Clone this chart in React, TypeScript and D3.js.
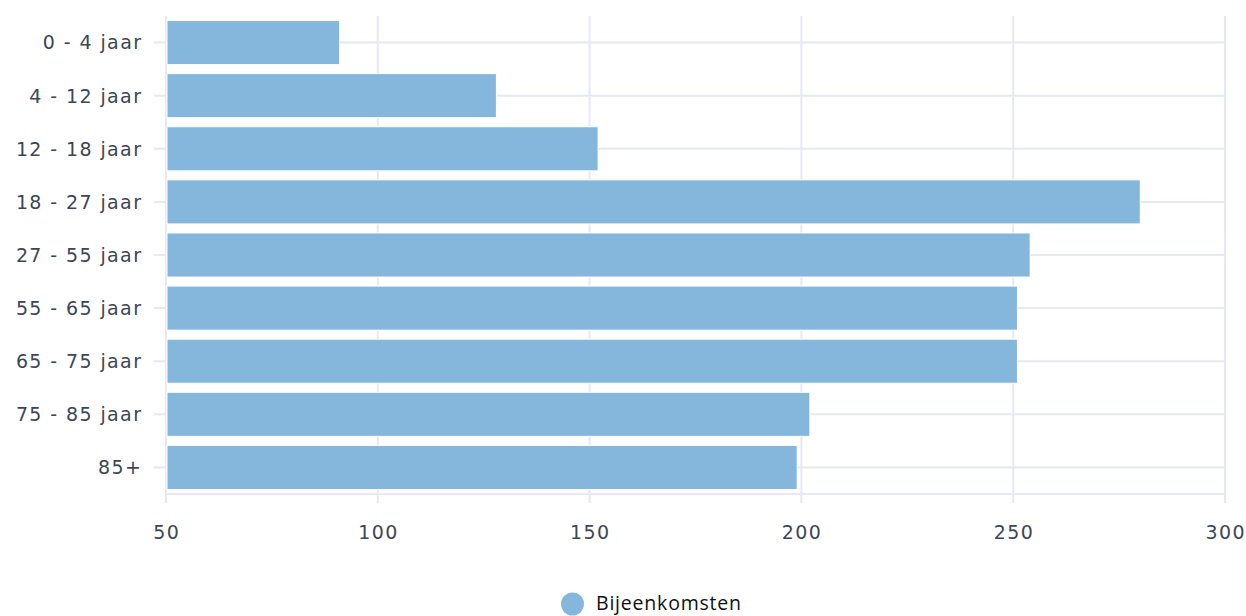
import React from "react";
import * as d3 from "d3";

const categories = [
  "0 - 4 jaar",
  "4 - 12 jaar",
  "12 - 18 jaar",
  "18 - 27 jaar",
  "27 - 55 jaar",
  "55 - 65 jaar",
  "65 - 75 jaar",
  "75 - 85 jaar",
  "85+",
];
const values = [91, 128, 152, 280, 254, 251, 251, 202, 199];
const xTicks = [50, 100, 150, 200, 250, 300];
const seriesName = "Bijeenkomsten";

const W = 1246;
const H = 616;
const left = 166;
const right = 1225;
const top = 16;
const bottom = 494;
const grid = "#e6e8f4";
const barColor = "#85b7dd";
const labelColor = "#3d4656";
const tickFont = "'DejaVu Sans', sans-serif";
const fs = 19;
const ls = 1.4;

export default function App() {
  const x = d3.scaleLinear().domain([50, 300]).range([left, right]);
  const y = d3
    .scaleBand<string>()
    .domain(categories)
    .range([top, bottom])
    .paddingInner(0.17)
    .paddingOuter(0.085);

  return (
    <svg width={W} height={H} style={{ position: "absolute", left: 0, top: 0, background: "#fff" }}>
      {xTicks.map((t) => (
        <line key={"v" + t} x1={x(t)} x2={x(t)} y1={top} y2={503} stroke={grid} strokeWidth={2} />
      ))}
      {categories.map((c) => {
        const cy = (y(c) as number) + y.bandwidth() / 2;
        return <line key={"h" + c} x1={154} x2={right} y1={cy} y2={cy} stroke={grid} strokeWidth={2} />;
      })}
      <line x1={left} x2={right} y1={bottom} y2={bottom} stroke={grid} strokeWidth={2} />
      {categories.map((c, i) => (
        <rect
          key={"b" + c}
          x={x(50) + 1}
          y={y(c) as number}
          width={x(values[i]) - x(50) - 1}
          height={y.bandwidth()}
          fill={barColor}
          stroke="#ffffff"
          strokeWidth={1}
        />
      ))}
      {categories.map((c) => {
        const cy = (y(c) as number) + y.bandwidth() / 2;
        return (
          <text
            key={"l" + c}
            x={141 + ls}
            y={cy}
            dy="0.36em"
            textAnchor="end"
            fontFamily={tickFont}
            fontSize={fs}
            letterSpacing={ls}
            fill={labelColor}
          >
            {c}
          </text>
        );
      })}
      {xTicks.map((t) => (
        <text
          key={"t" + t}
          x={x(t) + ls / 2}
          y={532}
          dy="0.36em"
          textAnchor="middle"
          fontFamily={tickFont}
          fontSize={fs}
          letterSpacing={ls}
          fill={labelColor}
        >
          {t}
        </text>
      ))}
      <circle cx={572.5} cy={604} r={11.5} fill={barColor} />
      <text
        x={596}
        y={610}
        fontFamily="'Open Sans', 'Noto Sans', sans-serif"
        fontSize={19.5}
        letterSpacing={0.8}
        fill="#111"
      >
        {seriesName}
      </text>
    </svg>
  );
}
